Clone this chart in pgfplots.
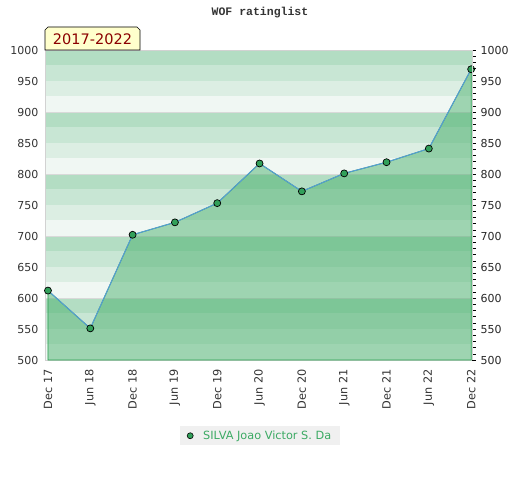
\documentclass[border=0pt]{standalone}
\usepackage{pgfplots}
\pgfplotsset{compat=1.18}
\usepackage{fontspec}
\setmainfont{DejaVu Sans}
\newfontfamily\titlefont{Liberation Mono}
\definecolor{bandA}{HTML}{B3DDC3}
\definecolor{bandB}{HTML}{C8E6D4}
\definecolor{bandC}{HTML}{DCEEE3}
\definecolor{bandD}{HTML}{F0F7F3}
\definecolor{areafill}{RGB}{63,171,100}
\definecolor{areaedge}{RGB}{40,160,80}
\definecolor{linecol}{RGB}{86,156,214}
\definecolor{markcol}{RGB}{50,160,90}
\definecolor{legtext}{RGB}{60,170,100}
\definecolor{labelred}{HTML}{8B0000}
\definecolor{labelbg}{HTML}{FFFFCC}
\definecolor{ticktext}{HTML}{333333}
\begin{document}
\begin{tikzpicture}[x=1pt,y=1pt]
\path[use as bounding box] (0,0) rectangle (520,480);
% background bands (500..1000 in steps of 25, 15.5pt each)
\foreach \k in {0,...,19}{
  \pgfmathtruncatemacro{\m}{mod(\k,4)}
  \ifcase\m
    \fill[bandD] (45,{120+15.5*\k}) rectangle (472,{120+15.5*(\k+1)});
  \or
    \fill[bandC] (45,{120+15.5*\k}) rectangle (472,{120+15.5*(\k+1)});
  \or
    \fill[bandB] (45,{120+15.5*\k}) rectangle (472,{120+15.5*(\k+1)});
  \or
    \fill[bandA] (45,{120+15.5*\k}) rectangle (472,{120+15.5*(\k+1)});
  \fi
}
\foreach \k in {1,2,3,4}{
  \draw[gray!30, line width=0.8pt] (45,{120+62*\k}) -- (472,{120+62*\k});
}
\begin{axis}[
  at={(45pt,120pt)}, anchor=south west,
  scale only axis, width=427pt, height=310pt,
  xmin=-0.07, xmax=10.02, ymin=500, ymax=1000,
  axis line style={gray!35},
  xtick={0,...,10},
  xticklabels={Dec 17,Jun 18,Dec 18,Jun 19,Dec 19,Jun 20,Dec 20,Jun 21,Dec 21,Jun 22,Dec 22},
  xticklabel style={rotate=90, anchor=east, font=\fontsize{11.3}{13}\selectfont, text=ticktext},
  xticklabel shift=6pt,
  ytick={500,550,...,1000},
  yticklabel style={font=\fontsize{11}{13}\selectfont, text=ticktext, xshift=-3pt},
  yticklabel pos=left,
  major tick length=0pt,
  /pgf/number format/assume math mode=true,
  /pgf/number format/1000 sep={},
  legend style={at={(axis description cs:0.3162,-0.2129)}, anchor=north west,
    draw=none, fill=white!94!black, font=\fontsize{11.3}{13}\selectfont, text=legtext,
    inner xsep=7pt, inner ysep=2.5pt, legend cell align=left,
    /tikz/every odd column/.style={column sep=8pt}},
  legend image code/.code={\draw[mark=*, mark size=3pt, mark options={fill=markcol, draw=black, line width=0.6pt}] plot coordinates {(0cm,0cm)};},
  clip=false,
]
\addplot[draw=areaedge, line width=0.8pt, fill=areafill, fill opacity=0.46, forget plot] coordinates {
(0,612) (1,551) (2,702) (3,722) (4,753) (5,817) (6,772) (7,801) (8,819) (9,841) (10,969)
} \closedcycle;
\addplot[color=linecol, line width=1pt, mark=*, mark size=3.5pt, mark options={fill=markcol, draw=black, line width=0.7pt}] coordinates {
(0,612) (1,551) (2,702) (3,722) (4,753) (5,817) (6,772) (7,801) (8,819) (9,841) (10,969)
};
\addlegendentry{SILVA Joao Victor S. Da\hspace{1pt}}
\end{axis}
\begin{axis}[
  at={(45pt,120pt)}, anchor=south west,
  scale only axis, width=427pt, height=310pt,
  xmin=-0.07, xmax=10.02, ymin=500, ymax=1000,
  axis x line=none, axis y line*=right,
  axis line style={gray!35},
  ytick={500,550,...,1000},
  minor y tick num=4,
  yticklabel style={font=\fontsize{11}{13}\selectfont, text=black!85, xshift=1.5pt},
  tick style={black, line width=0.6pt},
  tick align=outside,
  major tick length=3.5pt, minor tick length=3.5pt,
  /pgf/number format/assume math mode=true,
  /pgf/number format/1000 sep={},
]
\end{axis}
% title
\node[font=\titlefont\bfseries\fontsize{11.5}{13}\selectfont, text=black!80] at (260,467) {WOF ratinglist};
% period label
\draw[fill=labelbg, line width=0.6pt] (45,430) -- (45,450) -- (48,453) -- (137,453) -- (140,450) -- (140,430) -- cycle;
\node[font=\fontsize{14.5}{16}\selectfont, text=labelred] at (92.5,441) {2017-2022};
\end{tikzpicture}
\end{document}
